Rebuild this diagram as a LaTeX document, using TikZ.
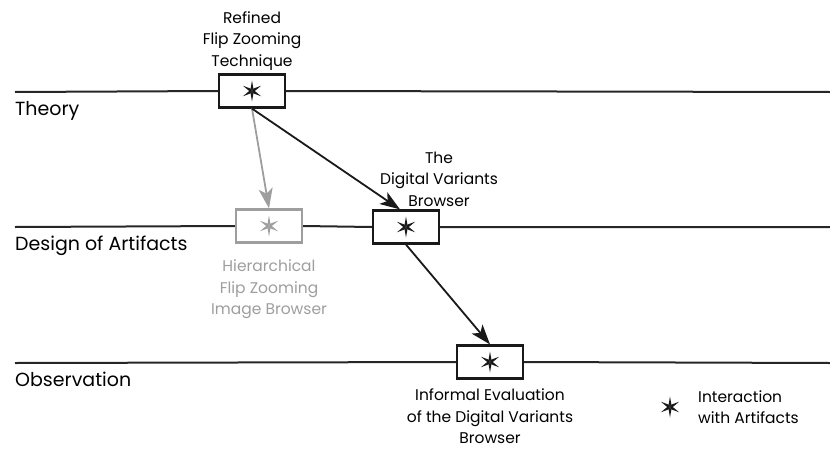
\documentclass[tikz,border=0pt]{standalone}
\usepackage{fontspec}
\setmainfont{Poppins}
\usetikzlibrary{arrows.meta, positioning}
\usepackage{xcolor}
\definecolor{faded}{gray}{0.62}

\begin{document}
\begin{tikzpicture}[x=1pt,y=-1pt, node distance=2pt]
    \tikzstyle{level line}=[line width=2pt, black!85]
    \tikzstyle{artifact}=[rectangle, draw=black!90, fill=white, line width=2.2pt, minimum width=66pt, minimum height=33pt, inner sep=0pt]
    \tikzstyle{faded artifact}=[artifact, draw=faded]
    \tikzstyle{annot}=[align=center, font=\fontsize{15.5}{21.5}\selectfont, inner sep=1pt]
    \tikzstyle{level}=[font=\fontsize{19}{22}\selectfont, anchor=north west, inner sep=0pt]
    \tikzstyle{link}=[-{Stealth[length=20pt,width=14pt,inset=5pt]}, line width=1.8pt, black!90]
    % six pointed star for an interaction
    \tikzset{aster/.pic={\foreach \a in {30,90,...,330} \fill (\a:10.5) -- (\a+30:2.8) -- (0,0) -- (\a-30:2.8) -- cycle;}}

    \useasboundingbox (0,0) rectangle (830,450);

    % Draw the three levels
    \foreach \name/\y/\txt in {T/92/Theory, D/227/Design of Artifacts, O/363/Observation}{
        \coordinate (\name-start) at (15,\y);
        \coordinate (\name-end) at (830,\y);
        \node[level] (\name-label) at (15,\y+9) {\txt};
    }

    % Artifacts sitting on the levels
    \node[artifact] (refined) at (252,91) {};
    \node[faded artifact] (hier) at (269,226) {};
    \node[artifact] (dvb) at (406,227) {};
    \node[artifact] (eval) at (490,362) {};

    \draw[level line] (T-start) -- (refined.west) (refined.east) -- (T-end);
    \draw[level line] (D-start) -- (hier.west) (hier.east) -- (dvb.west) (dvb.east) -- (D-end);
    \draw[level line] (O-start) -- (eval.west) (eval.east) -- (O-end);

    \foreach \n in {refined,dvb,eval}
        \pic[black!90] at (\n) {aster};
    \pic[faded] at (hier) {aster};

    % Labels of the artifacts
    \node[annot, above=of refined] (refined-text) {Refined\\Flip Zooming\\Technique};
    \node[annot, text=faded, below=15pt of hier] (hier-text) {Hierarchical\\Flip Zooming\\Image Browser};
    \node[annot, above=of dvb, xshift=33pt] (dvb-text) {The\\Digital Variants\\Browser};
    \node[annot, below=8pt of eval] (eval-text) {Informal Evaluation\\of the Digital Variants\\Browser};

    % Connect the artifacts
    \draw[link, draw=faded, fill=faded] (refined.south) -- (hier.north);
    \draw[link] (refined.south) -- ([xshift=-6pt]dvb.north);
    \draw[link] (dvb.south) -- (eval.north);

    % Legend
    \coordinate (legend-star) at (670,407);
    \pic[black!90] at (legend-star) {aster};
    \node[annot, align=left, anchor=west, right=27pt of legend-star] (legend) {Interaction\\with Artifacts};
\end{tikzpicture}
\end{document}
